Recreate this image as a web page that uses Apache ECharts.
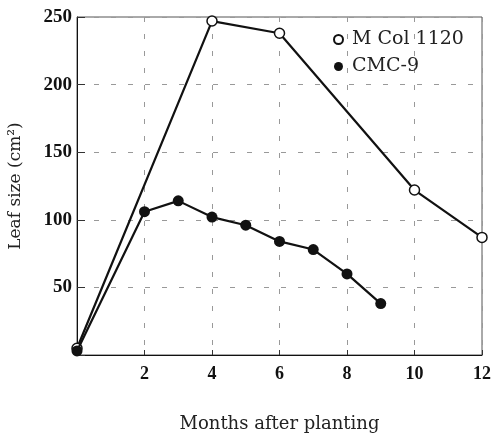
<!DOCTYPE html>
<html>
<head>
<meta charset="utf-8">
<script src="https://cdn.jsdelivr.net/npm/echarts@6/dist/echarts.min.js"></script>
<style>
  html, body { margin: 0; padding: 0; background: #fff; }
  #chart { width: 491px; height: 436px; }
</style>
</head>
<body>
<div id="chart"></div>
<script>
// Leaf size over months after planting, two cassava clones
const xTicks = [2, 4, 6, 8, 10, 12];
const yTicks = [50, 100, 150, 200, 250];

const mColMonths = [0, 4, 6, 10, 12];
const mColSize   = [5, 247, 238, 122, 87];

const cmcMonths = [0, 2, 3, 4, 5, 6, 7, 8, 9];
const cmcSize   = [3, 106, 114, 102, 96, 84, 78, 60, 38];

const pairs = (xs, ys) => xs.map((x, i) => [x, ys[i]]);

const serif = '"Liberation Serif", "DejaVu Serif", serif';
const wideSerif = '"DejaVu Serif", "Liberation Serif", serif';

const chart = echarts.init(document.getElementById('chart'));
chart.setOption({
  animation: false,
  backgroundColor: '#fff',
  grid: {
    left: 77, right: 9, top: 17, bottom: 81,
    outerBoundsMode: 'none', containLabel: false,
    show: true, borderColor: '#555', borderWidth: 1
  },
  legend: {
    left: 328, top: 25, orient: 'vertical', itemGap: 8,
    itemWidth: 9, itemHeight: 9,
    textStyle: { fontFamily: wideSerif, fontSize: 19, color: '#222', padding: [0, 0, 0, 4] },
    data: [
      { name: 'M Col 1120', icon: 'circle', itemStyle: { color: '#fff', borderColor: '#111', borderWidth: 2 } },
      { name: 'CMC-9', icon: 'circle', itemStyle: { color: '#111' } }
    ]
  },
  xAxis: {
    type: 'value', min: 0, max: 12,
    name: 'Months after planting', nameLocation: 'middle', nameGap: 60,
    nameTextStyle: { fontFamily: wideSerif, fontSize: 18, color: '#222' },
    axisLine: { show: true, lineStyle: { color: '#111', width: 1 } },
    axisTick: { show: true, inside: true, length: 5, customValues: xTicks, lineStyle: { color: '#333' } },
    axisLabel: {
      customValues: xTicks, margin: 10,
      fontFamily: serif, fontSize: 18, fontWeight: 'bold', color: '#111'
    },
    splitLine: { show: true, lineStyle: { color: '#999', type: [5, 12] } }
  },
  yAxis: {
    type: 'value', min: 0, max: 250, interval: 50,
    name: 'Leaf size (cm²)', nameLocation: 'middle', nameGap: 53,
    nameTextStyle: { fontFamily: wideSerif, fontSize: 17, color: '#222' },
    axisLine: { show: true, lineStyle: { color: '#111', width: 1 } },
    axisTick: { show: true, inside: true, length: 8, lineStyle: { color: '#333' } },
    axisLabel: {
      margin: 5, fontFamily: serif, fontSize: 19, fontWeight: 'bold', color: '#111',
      formatter: v => (yTicks.includes(v) ? String(v) : '')
    },
    splitLine: { show: true, lineStyle: { color: '#999', type: [5, 12] } }
  },
  series: [
    {
      name: 'M Col 1120', type: 'line', data: pairs(mColMonths, mColSize),
      symbol: 'circle', symbolSize: 10, showAllSymbol: true,
      lineStyle: { color: '#111', width: 2.2 },
      itemStyle: { color: '#fff', borderColor: '#111', borderWidth: 1.5 },
      z: 3
    },
    {
      name: 'CMC-9', type: 'line', data: pairs(cmcMonths, cmcSize),
      symbol: 'circle', symbolSize: 11, showAllSymbol: true,
      lineStyle: { color: '#111', width: 2.2 },
      itemStyle: { color: '#111' },
      z: 4
    }
  ]
});
</script>
</body>
</html>
